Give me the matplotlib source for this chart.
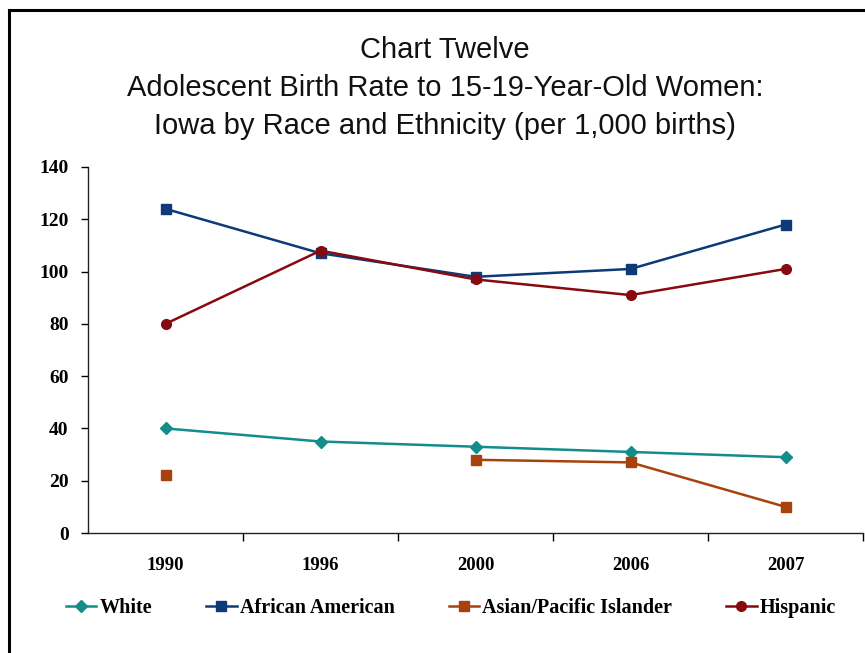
import numpy as np
import matplotlib
matplotlib.use("Agg")
import matplotlib.pyplot as plt
from matplotlib.lines import Line2D

years = ["1990", "1996", "2000", "2006", "2007"]
white = [40, 35, 33, 31, 29]
african_american = [124, 107, 98, 101, 118]
asian_pacific = [22, np.nan, 28, 27, 10]
hispanic = [80, 108, 97, 91, 101]

y_ticks = [0, 20, 40, 60, 80, 100, 120, 140]

title_lines = [
    "Chart Twelve",
    "Adolescent Birth Rate to 15-19-Year-Old Women:",
    "Iowa by Race and Ethnicity (per 1,000 births)",
]

W, H = 865, 653
fig = plt.figure(figsize=(W / 100, H / 100), dpi=100)
fig.patch.set_facecolor("white")

# outer frame (left and top edges visible)
fig.add_artist(Line2D([9 / W, 9 / W], [0, 1 - 10 / H], color="black", lw=2.2,
                      transform=fig.transFigure))
fig.add_artist(Line2D([9 / W, 1], [1 - 10 / H, 1 - 10 / H], color="black", lw=2.2,
                      transform=fig.transFigure))

ax = fig.add_axes([88 / W, 1 - 533 / H, (863 - 88) / W, (533 - 167) / H])

x = np.arange(len(years))
serif = "Liberation Serif"

ax.plot(x, white, color="#138C8C", lw=1.8, marker="D", markersize=6,
        label="White")
ax.plot(x, african_american, color="#0E3A78", lw=1.8, marker="s", markersize=7.5,
        label="African American")
ax.plot(x, asian_pacific, color="#A8420C", lw=1.8, marker="s", markersize=7.5,
        label="Asian/Pacific Islander")
ax.plot(x, hispanic, color="#860A10", lw=1.8, marker="o", markersize=7,
        label="Hispanic")

ax.set_xlim(-0.5, len(years) - 0.5)
ax.set_ylim(0, 140)
ax.set_yticks(y_ticks)
ax.set_yticklabels([str(v) for v in y_ticks], fontfamily=serif,
                   fontweight="bold", fontsize=14)

ax.set_xticks(x)
ax.set_xticklabels(years, fontfamily=serif, fontweight="bold", fontsize=13.5)
ax.set_xticks(np.arange(len(years)) + 0.5, minor=True)
ax.tick_params(axis="x", which="major", length=0, pad=17)
ax.tick_params(axis="x", which="minor", length=6, width=1, direction="out")
ax.tick_params(axis="y", length=5, width=1, direction="out", pad=9)

for side in ("top", "right"):
    ax.spines[side].set_visible(False)
for side in ("left", "bottom"):
    ax.spines[side].set_color("#222222")
    ax.spines[side].set_linewidth(1)

ys = [50, 88, 126]
for line, yp in zip(title_lines, ys):
    fig.text(445 / W, 1 - yp / H, line, ha="center", va="center",
             fontfamily="Liberation Sans", fontsize=21, color="#111111")

leg = fig.legend(loc="center", bbox_to_anchor=(451 / W, 1 - 608 / H), ncol=4,
                 frameon=False, handlelength=1.5, columnspacing=2.7,
                 handletextpad=0.15,
                 prop={"family": serif, "weight": "bold", "size": 14.5})

fig.savefig("out.png", dpi=100, facecolor="white")
